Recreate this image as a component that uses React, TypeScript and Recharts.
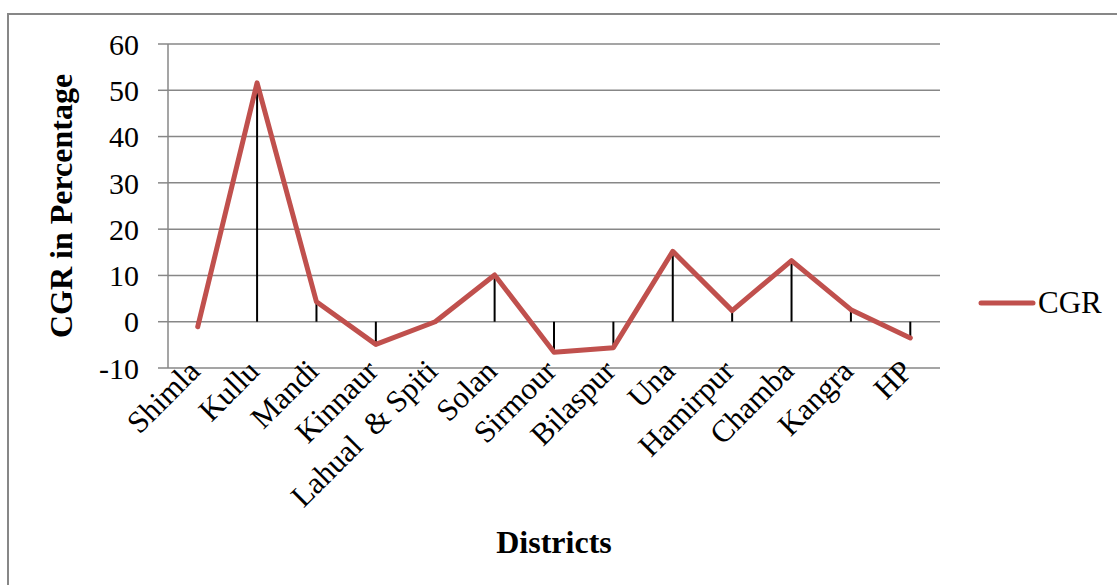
import React from "react";
import {
  CartesianGrid,
  ErrorBar,
  Label,
  Legend,
  Line,
  LineChart,
  XAxis,
  YAxis,
} from "recharts";

const districts = [
  "Shimla",
  "Kullu",
  "Mandi",
  "Kinnaur",
  "Lahual  & Spiti",
  "Solan",
  "Sirmour",
  "Bilaspur",
  "Una",
  "Hamirpur",
  "Chamba",
  "Kangra",
  "HP",
];
const cgrValues = [-1.1, 51.6, 4.3, -4.9, 0, 10.1, -6.6, -5.6, 15.2, 2.4, 13.2, 2.6, -3.5];
const yTicks = [-10, 0, 10, 20, 30, 40, 50, 60];

const SERIF = '"Liberation Serif", "Times New Roman", serif';
const LINE_RED = "#C0504D";
const GRID_GREY = "#878787";

// drop lines: error bar from the point back to zero
const chartData = districts.map((name, i) => {
  const v = cgrValues[i];
  return { name, cgr: v, drop: v >= 0 ? [v, 0] : [0, -v] };
});

function DistrictTick({ x, y, payload }: any) {
  const ax = x + 4;
  const ay = y + 5;
  return (
    <text
      x={ax}
      y={ay}
      transform={`rotate(-45, ${ax}, ${ay})`}
      textAnchor="end"
      fontFamily={SERIF}
      fontSize={31}
      fill="#000"
      style={{ whiteSpace: "pre" }}
    >
      {payload.value}
    </text>
  );
}

function LegendBox({ payload }: any) {
  const items = (payload ?? []).filter((p: any) => p.type !== "none");
  return (
    <div>
      {items.map((entry: any) => (
        <div
          key={entry.value}
          style={{ display: "flex", alignItems: "center", height: 40 }}
        >
          <svg width={60} height={12}>
            <line
              x1={4}
              y1={6}
              x2={56}
              y2={6}
              stroke={entry.color}
              strokeWidth={5}
              strokeLinecap="round"
            />
          </svg>
          <span style={{ fontFamily: SERIF, fontSize: 31, color: "#000", marginLeft: 1 }}>
            {entry.value}
          </span>
        </div>
      ))}
    </div>
  );
}

export default function App() {
  return (
    <div style={{ position: "relative", width: 1117, height: 585, background: "#fff" }}>
      <style>{"body{margin:0;overflow:hidden;background:#fff}"}</style>
      <div
        style={{
          position: "absolute",
          left: 7,
          top: 13,
          width: 1200,
          height: 700,
          borderLeft: `2px solid ${GRID_GREY}`,
          borderTop: `2px solid ${GRID_GREY}`,
        }}
      />
      <div style={{ position: "absolute", left: 0, top: 0 }}>
        <LineChart
          width={1117}
          height={585}
          data={chartData}
          margin={{ top: 44, right: 177, bottom: 67, left: 68 }}
        >
          <CartesianGrid vertical={false} stroke={GRID_GREY} strokeWidth={1.5} />
          <XAxis
            dataKey="name"
            interval={0}
            height={150}
            padding={{ left: 29.7, right: 29.7 }}
            tickLine={false}
            axisLine={false}
            tickSize={0}
            tickMargin={0}
            tick={<DistrictTick />}
          >
            <Label
              content={() => (
                <text
                  x={554}
                  y={553}
                  textAnchor="middle"
                  fontFamily={SERIF}
                  fontSize={32}
                  fontWeight="bold"
                  fill="#000"
                >
                  Districts
                </text>
              )}
            />
          </XAxis>
          <YAxis
            width={100}
            domain={[-10, 60]}
            ticks={yTicks}
            interval={0}
            tickSize={10}
            tickMargin={19}
            stroke={GRID_GREY}
            axisLine={{ stroke: GRID_GREY, strokeWidth: 1.5 }}
            tickLine={{ stroke: GRID_GREY, strokeWidth: 1.5 }}
            tick={{ fill: "#000", fontFamily: SERIF, fontSize: 30 }}
          >
            <Label
              content={() => (
                <text
                  x={72}
                  y={206}
                  transform="rotate(-90, 72, 206)"
                  textAnchor="middle"
                  fontFamily={SERIF}
                  fontSize={32}
                  fontWeight="bold"
                  fill="#000"
                >
                  CGR in Percentage
                </text>
              )}
            />
          </YAxis>
          <Legend
            layout="vertical"
            align="center"
            verticalAlign="middle"
            wrapperStyle={{ left: 977, top: 283, width: 140 }}
            content={<LegendBox />}
          />
          <Line
            dataKey="cgr"
            stroke="none"
            dot={false}
            activeDot={false}
            legendType="none"
            isAnimationActive={false}
          >
            <ErrorBar
              dataKey="drop"
              width={0}
              stroke="#000"
              strokeWidth={2}
              direction="y"
              isAnimationActive={false}
            />
          </Line>
          <Line
            dataKey="cgr"
            name="CGR"
            stroke={LINE_RED}
            strokeWidth={5}
            strokeLinecap="round"
            strokeLinejoin="round"
            dot={false}
            activeDot={false}
            isAnimationActive={false}
          />
        </LineChart>
      </div>
    </div>
  );
}
